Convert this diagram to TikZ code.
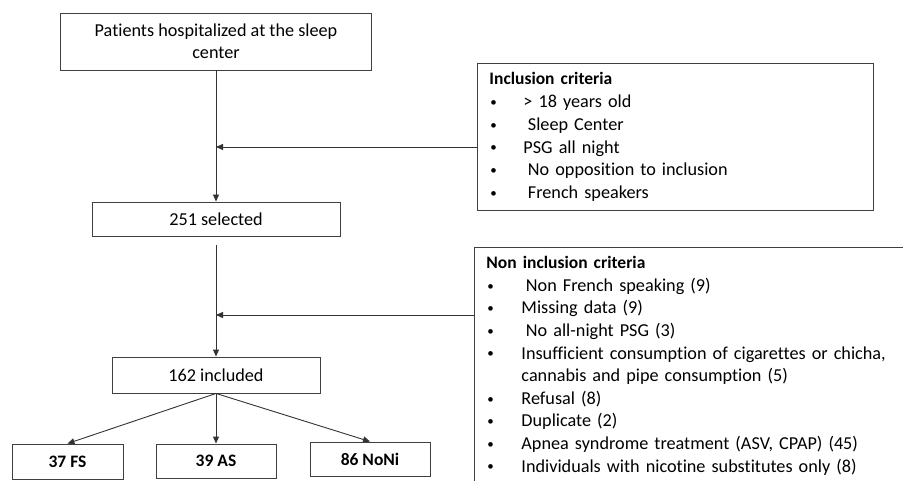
\documentclass[tikz,border=0pt]{standalone}
\usepackage{fontspec}
\setmainfont{Carlito}[Ligatures=NoCommon]
\usetikzlibrary{arrows.meta}
\newcommand\smbul{\hspace*{1pt}\raisebox{1.3pt}{\fontsize{13}{13}\selectfont\textbullet}}
\newcommand\incitem[1]{\makebox[34pt][l]{\smbul}#1}
\newcommand\nonitem[1]{\makebox[35pt][l]{\smbul}#1}
\begin{document}
\begin{tikzpicture}[x=1pt,y=-1pt,
  box/.style={draw=black!75, line width=0.9pt, inner sep=0pt, align=center,
    font=\fontsize{18.2}{22}\selectfont},
  boldbox/.style={box, font=\fontsize{17.5}{22}\selectfont\bfseries},
  critbox/.style={draw=black!75, line width=0.9pt, anchor=north west, align=left,
    inner xsep=12pt},
  arr/.style={draw=black!80, line width=0.9pt, -{Triangle[length=7pt,width=6pt]}}
]
\useasboundingbox (0,0) rectangle (903,481);
\fill[white] (0,0) rectangle (903,481);
\clip (0,0) rectangle (903,481);

\node[box, minimum width=311pt, minimum height=57pt] (top) at (216,41.5)
  {Patients hospitalized at the sleep\\center};
\node[box, minimum width=248pt, minimum height=34pt] (sel) at (216,219) {251 selected};
\node[box, minimum width=208pt, minimum height=36pt] (inc) at (216,375) {162 included};
\node[boldbox, minimum width=111pt, minimum height=35pt] (fs) at (67.5,461.5) {37 FS};
\node[boldbox, minimum width=120pt, minimum height=34pt] (as) at (216,461) {39 AS};
\node[boldbox, minimum width=120pt, minimum height=34pt] (noni) at (370,459) {86 NoNi};

\node[critbox, text width=372pt, inner ysep=9pt,
  font=\fontsize{18.2}{22.8}\selectfont] (incl) at (477,63)
  {{\fontsize{17.5}{22.8}\selectfont\textbf{Inclusion criteria}}\\
   \incitem{> 18 years old}\\
   \incitem{\hspace*{4.5pt}Sleep Center}\\
   \incitem{PSG all night}\\
   \incitem{\hspace*{4.5pt}No opposition to inclusion}\\
   \incitem{\hspace*{4.5pt}French speakers}};

\node[critbox, text width=440pt, inner ysep=9pt,
  font=\fontsize{18.2}{22.6}\selectfont] (noninc) at (474,247)
  {{\fontsize{17.5}{22.6}\selectfont\textbf{Non inclusion criteria}}\\
   \nonitem{\hspace*{4.5pt}Non French speaking (9)}\\
   \nonitem{Missing data (9)}\\
   \nonitem{\hspace*{4.5pt}No all-night PSG (3)}\\
   \nonitem{Insufficient consumption of cigarettes or chicha,}\\
   \hspace*{35pt}cannabis and pipe consumption (5)\\
   \nonitem{Refusal (8)}\\
   \nonitem{Duplicate (2)}\\
   \nonitem{Apnea syndrome treatment (ASV, CPAP) (45)}\\
   \nonitem{Individuals with nicotine substitutes only (8)}};

\coordinate (m1) at (216,147);
\coordinate (m2) at (216,315);

\draw[arr] (top) -- (sel);
\draw[arr] (incl.west |- m1) -- (m1);
\draw[arr, shorten <=9pt] (sel) -- (inc);
\draw[arr] (noninc.west |- m2) -- (m2);
\draw[arr] (inc.south) -- (fs.north);
\draw[arr] (inc.south) -- (as.north);
\draw[arr] (inc.south) -- (noni.north);
\end{tikzpicture}
\end{document}
